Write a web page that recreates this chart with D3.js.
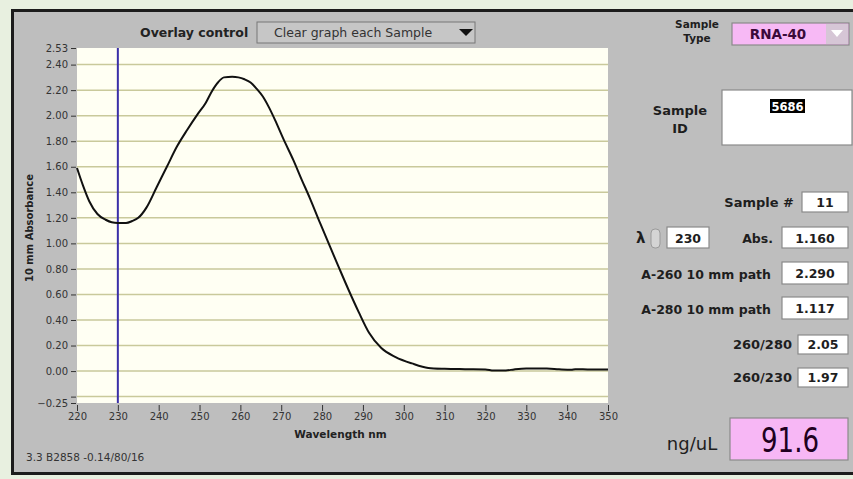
<!DOCTYPE html>
<html>
<head>
<meta charset="utf-8">
<script src="https://cdn.jsdelivr.net/npm/d3@7"></script>
<style>
  body { margin: 0; background: #e8f0e0; }
  svg { display: block; font-family: "DejaVu Sans", sans-serif; }
  .tick text { fill: #333; }
</style>
</head>
<body>
<svg width="853" height="479"></svg>
<script>
// spectrum
const wavelengths = [220, 221.5, 223, 225, 227, 228.5, 230, 232, 233.5, 235, 237, 239.5, 242, 244.5, 247, 249.5, 251.5, 253, 254.5, 256, 258, 259.5, 261, 262.5, 264, 265.5, 267, 268.5, 270.5, 273, 275, 277, 279.5, 282, 284, 286.5, 289, 291.5, 294.5, 298, 302, 306, 310, 315, 320, 322, 325, 327, 330, 335, 338, 341, 342, 345, 350];
const absorbance = [1.59, 1.45, 1.33, 1.23, 1.185, 1.165, 1.16, 1.16, 1.175, 1.2, 1.28, 1.44, 1.6, 1.76, 1.89, 2.01, 2.1, 2.19, 2.26, 2.3, 2.305, 2.3, 2.285, 2.26, 2.21, 2.15, 2.065, 1.965, 1.82, 1.65, 1.5, 1.355, 1.16, 0.97, 0.82, 0.635, 0.46, 0.3, 0.18, 0.11, 0.06, 0.025, 0.018, 0.015, 0.013, 0.004, 0.005, 0.013, 0.02, 0.02, 0.014, 0.01, 0.014, 0.013, 0.012];
const xTicks = [220, 230, 240, 250, 260, 270, 280, 290, 300, 310, 320, 330, 340, 350];
const yTicks = [2.53, 2.4, 2.2, 2.0, 1.8, 1.6, 1.4, 1.2, 1.0, 0.8, 0.6, 0.4, 0.2, 0.0, -0.2, -0.25];
const gridValues = [2.4, 2.2, 2.0, 1.8, 1.6, 1.4, 1.2, 1.0, 0.8, 0.6, 0.4, 0.2, 0.0, -0.2];
const cursorWavelength = 230;

// readouts on the right
const sampleType = "RNA-40";
const sampleId = "5686";
const sampleNumber = "11";
const lambdaValue = "230";
const absValue = "1.160";
const rows = [
  { label: "A-260 10 mm path", value: "2.290" },
  { label: "A-280 10 mm path", value: "1.117" }
];
const ratios = [
  { label: "260/280", value: "2.05" },
  { label: "260/230", value: "1.97" }
];
const concentration = "91.6";
const footer = "3.3 B2858 -0.14/80/16";

const svg = d3.select("svg");
const plotLeft = 77, plotRight = 608, plotTop = 48, plotBottom = 403;

// panel
svg.append("rect").attr("x", 12.5).attr("y", 10.5).attr("width", 860).attr("height", 463)
  .attr("fill", "#bebebe").attr("stroke", "#1c1c1c").attr("stroke-width", 3);

const x = d3.scaleLinear().domain([220, 350]).range([plotLeft, plotRight]);
const y = d3.scaleLinear().domain([-0.25, 2.53]).range([plotBottom, plotTop]);

// plot background
svg.append("rect").attr("x", plotLeft).attr("y", plotTop).attr("width", plotRight - plotLeft).attr("height", plotBottom - plotTop)
  .attr("fill", "#fffff3");

svg.append("g").selectAll("line").data(gridValues).join("line")
  .attr("x1", plotLeft).attr("x2", plotRight)
  .attr("y1", d => y(d)).attr("y2", d => y(d))
  .attr("stroke", "#c9c99b").attr("stroke-width", 1.5);

// axes
const xAxis = svg.append("g").attr("transform", `translate(0,${plotBottom + 2})`)
  .call(d3.axisBottom(x).tickValues(xTicks).tickSize(6).tickPadding(2).tickFormat(d3.format("d")));
const yAxis = svg.append("g").attr("transform", `translate(${plotLeft - 1},0)`)
  .call(d3.axisLeft(y).tickValues(yTicks).tickSize(5).tickPadding(3)
    .tickFormat(d => d === -0.2 ? "" : d3.format(".2f")(d)));
[xAxis, yAxis].forEach(a => {
  a.select(".domain").remove();
  a.selectAll("text").attr("font-size", 10).attr("font-family", "DejaVu Sans");
  a.selectAll("line").attr("stroke", "#333");
});

// cursor and spectrum
svg.append("line").attr("x1", x(cursorWavelength)).attr("x2", x(cursorWavelength))
  .attr("y1", plotTop).attr("y2", plotBottom).attr("stroke", "#3a2fa8").attr("stroke-width", 2);

const line = d3.line().x((d, i) => x(wavelengths[i])).y(d => y(d)).curve(d3.curveMonotoneX);
svg.append("path").datum(absorbance).attr("d", line)
  .attr("fill", "none").attr("stroke", "#111").attr("stroke-width", 2);

// axis titles
svg.append("text").attr("transform", `translate(33,228) rotate(-90)`).attr("text-anchor", "middle")
  .attr("font-size", 10).attr("font-weight", "bold").attr("fill", "#222").text("10 mm Absorbance");
svg.append("text").attr("x", (plotLeft + plotRight) / 2 - 2).attr("y", 438).attr("text-anchor", "middle")
  .attr("font-size", 10.5).attr("font-weight", "bold").attr("fill", "#222").text("Wavelength nm");
svg.append("text").attr("x", 26).attr("y", 461).attr("font-size", 10.5).attr("fill", "#333").text(footer);

// overlay control
svg.append("text").attr("x", 140).attr("y", 37).attr("font-size", 12.5).attr("font-weight", "bold")
  .attr("fill", "#222").text("Overlay control");
svg.append("rect").attr("x", 257).attr("y", 22).attr("width", 218).attr("height", 21)
  .attr("fill", "#c6c6c6").attr("stroke", "#777");
svg.append("text").attr("x", 274).attr("y", 37).attr("font-size", 12.5).attr("fill", "#333")
  .text("Clear graph each Sample");
svg.append("path").attr("d", "M459,29 L473,29 L466,36 Z").attr("fill", "#111");

// helper for readout boxes
function box(x0, y0, w, h, fill) {
  svg.append("rect").attr("x", x0).attr("y", y0).attr("width", w).attr("height", h)
    .attr("fill", fill || "#fff").attr("stroke", "#8a8a8a").attr("stroke-width", 1.2);
}
function label(xx, yy, t, size, anchor) {
  svg.append("text").attr("x", xx).attr("y", yy).attr("text-anchor", anchor || "end")
    .attr("font-size", size || 12).attr("font-weight", "bold").attr("fill", "#1e1e1e").text(t);
}

// sample type
label(697, 28, "Sample", 10.5, "middle");
label(697, 42, "Type", 10.5, "middle");
box(732, 23, 117, 22, "#f7b9f5");
svg.append("rect").attr("x", 826).attr("y", 24).attr("width", 22).attr("height", 20).attr("fill", "#d6c6d6");
svg.append("path").attr("d", "M831,30 L843,30 L837,37 Z").attr("fill", "#fff");
svg.append("text").attr("x", 778).attr("y", 39).attr("text-anchor", "middle").attr("font-size", 13.5)
  .attr("font-weight", "bold").attr("fill", "#3a0a3a").text(sampleType);

// sample id
label(680, 115, "Sample", 13, "middle");
label(680, 133, "ID", 13, "middle");
box(722, 90, 130, 55);
svg.append("rect").attr("x", 770).attr("y", 99).attr("width", 35).attr("height", 14).attr("fill", "#000");
svg.append("text").attr("x", 787.5).attr("y", 111).attr("text-anchor", "middle").attr("font-size", 11.5)
  .attr("font-weight", "bold").attr("fill", "#fff").text(sampleId);

// sample number
label(794, 207, "Sample #", 13);
box(802, 192, 46, 20);
label(825, 207, sampleNumber, 12.5, "middle");

// lambda row
label(636, 243, "λ", 15, "start");
svg.append("rect").attr("x", 651).attr("y", 229).attr("width", 9).attr("height", 19).attr("rx", 4)
  .attr("fill", "#d4d4d4").attr("stroke", "#9a9a9a");
box(667, 227, 42, 21);
label(688, 243, lambdaValue, 12.5, "middle");
label(773, 243, "Abs.", 12.5);
box(782, 227, 66, 21);
label(815, 243, absValue, 12.5, "middle");

rows.forEach((r, i) => {
  const yy = 262 + i * 35;
  label(771, yy + 17, r.label, 12.5);
  box(782, yy, 66, 22);
  label(815, yy + 16, r.value, 12.5, "middle");
});

ratios.forEach((r, i) => {
  const yy = 335 + i * 33;
  label(792, yy + 14, r.label, 13);
  box(798, yy, 50, 19);
  label(823, yy + 14, r.value, 12.5, "middle");
});

// concentration
svg.append("text").attr("x", 692).attr("y", 450).attr("text-anchor", "middle").attr("font-size", 18)
  .attr("fill", "#1e1e1e").text("ng/uL");
box(730, 418, 118, 42, "#f7b7f5");
svg.append("text").attr("x", 790).attr("y", 452).attr("text-anchor", "middle").attr("font-size", 34)
  .attr("textLength", 58).attr("lengthAdjust", "spacingAndGlyphs").attr("fill", "#200020").text(concentration);
</script>
</body>
</html>
